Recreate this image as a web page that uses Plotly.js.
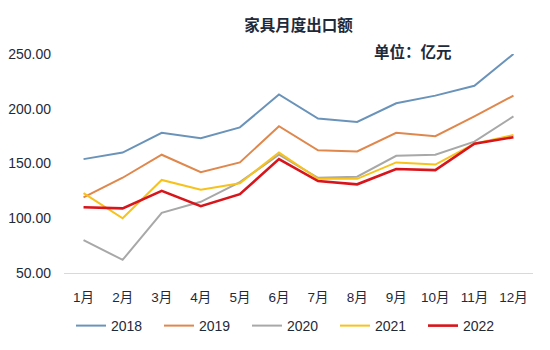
<!DOCTYPE html>
<html>
<head>
<meta charset="utf-8">
<script src="https://cdn.plot.ly/plotly-3.0.1.min.js"></script>
<style>html,body{margin:0;padding:0;background:#fff;}#chart{width:550px;height:350px;}</style>
</head>
<body>
<div id="chart"></div>
<script>
const months = ["1月","2月","3月","4月","5月","6月","7月","8月","9月","10月","11月","12月"];
const seriesNames = ["2018","2019","2020","2021","2022"];
const v2018 = [154,160,178,173,183,213,191,188,205,212,221,250];
const v2019 = [119,137,158,142,151,184,162,161,178,175,193,212];
const v2020 = [80,62,105,115,133,158,137,138,157,158,170,193];
const v2021 = [123,100,135,126,132,160,136,136,151,149,168,176];
const v2022 = [110,109,125,111,122,154,134,131,145,144,168,174];
const yTicks = [50,100,150,200,250];

const values = [v2018, v2019, v2020, v2021, v2022];
const colors = ["#6A93BA","#E0874C","#A8A8A8","#F7C21B","#D8151A"];
const widths = [2, 2, 2, 2, 2.6];

const traces = values.map((v, i) => ({
  type: "scatter", mode: "lines", x: months, y: v, name: seriesNames[i],
  line: {color: colors[i], width: widths[i]}, hoverinfo: "skip"
}));

const FONT = "Liberation Sans, Arial, Noto Sans CJK SC, sans-serif";
const layout = {
  width: 550, height: 350,
  margin: {l: 64, r: 17, t: 54, b: 77},
  paper_bgcolor: "#fff", plot_bgcolor: "#fff",
  font: {family: FONT, color: "#1e2a3a", size: 14},
  title: {text: "家具月度出口额", x: 0.5, xref: "paper", xanchor: "center", y: 1 - 26/350, yanchor: "middle",
          font: {family: "Noto Sans CJK SC, sans-serif", size: 15.5, color: "#1e2a3a", weight: 700}},
  showlegend: true,
  legend: {orientation: "h", x: (71 - 64) / 469, xanchor: "left", yref: "container", y: 24/350, yanchor: "middle",
           font: {size: 14, color: "#1e2a3a"}, entrywidth: 43, entrywidthmode: "pixels", bgcolor: "rgba(0,0,0,0)"},
  xaxis: {type: "category", range: [-0.5, 11.5], showgrid: false, zeroline: false, automargin: false,
          showline: true, linecolor: "#d9d9d9", linewidth: 1, ticks: "", tickfont: {size: 13.5, color: "#1e2a3a"},
          ticklabelstandoff: 12, fixedrange: true},
  yaxis: {range: [50, 250], tickvals: yTicks, tickformat: ".2f", showgrid: false, zeroline: false, automargin: false,
          showline: false, ticks: "", tickfont: {size: 14, color: "#1e2a3a"}, ticklabelstandoff: 12, fixedrange: true},
  annotations: [{text: "单位：亿元", xref: "paper", yref: "paper", x: (413 - 64) / 469, y: (273 - 51) / 219,
                 xanchor: "center", yanchor: "middle", showarrow: false,
                 font: {family: "Noto Sans CJK SC, sans-serif", size: 15.5, color: "#1e2a3a", weight: 700}}]
};

Plotly.newPlot("chart", traces, layout, {staticPlot: true, displayModeBar: false});
</script>
</body>
</html>
